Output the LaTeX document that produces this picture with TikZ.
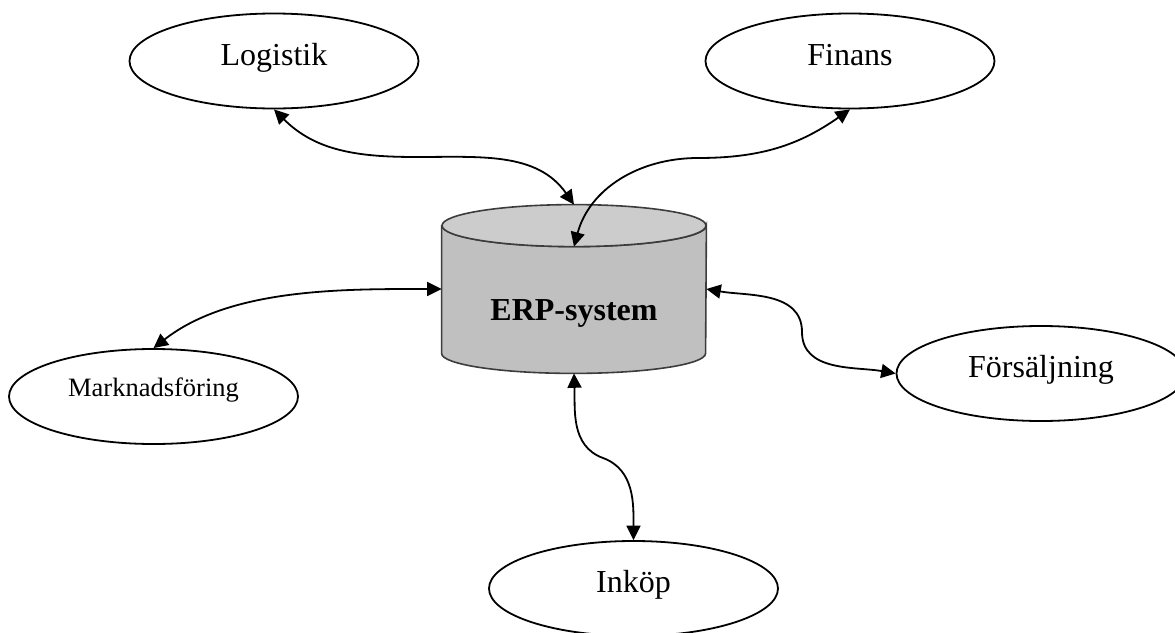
\documentclass[tikz,border=0pt]{standalone}
\usepackage{fontspec}
\setmainfont{Liberation Serif}
\usetikzlibrary{shapes.geometric,arrows.meta,calc}
\definecolor{cylbody}{RGB}{192,192,192}
\definecolor{cyltop}{RGB}{204,204,204}
\definecolor{cylline}{RGB}{60,60,60}
\tikzset{
  unit/.style={draw=black, line width=0.9pt, ellipse, inner sep=0pt,
    minimum width=144.5pt, minimum height=47.5pt,
    font=\fontsize{16}{19}\selectfont, text height=10pt, text depth=6pt},
  conn/.style={line width=0.9pt, {Triangle[length=7.2pt,width=7pt]}-{Triangle[length=7.2pt,width=7pt]}},
}
\begin{document}
\begin{tikzpicture}[x=0.5pt,y=0.5pt]
\useasboundingbox (0,0) rectangle (1175,-633);
% units
\node[unit] (L) at (274,-61) {Logistik};
\node[unit] (F) at (850,-61) {Finans};
\node[unit, font=\fontsize{13.25}{16}\selectfont, text height=6pt, text depth=6pt] (M) at (153.5,-396.5) {Marknadsföring};
\node[unit] (S) at (1041,-373.5) {Försäljning};
\node[unit] (I) at (633.5,-588.5) {Inköp};
% ERP cylinder
\node[inner sep=0pt, minimum width=132pt, minimum height=84pt,
      font=\bfseries\fontsize{16}{19}\selectfont, text height=31pt, text depth=0pt]
      (ERP) at (574,-289) {};
\filldraw[fill=cylbody, draw=cylline, line width=0.8pt]
  ($(ERP.north west)+(0,-21)$) -- ($(ERP.south west)+(0,20)$)
  arc[start angle=180, end angle=360, x radius=66pt, y radius=10pt]
  -- ($(ERP.north east)+(0,-21)$)
  arc[start angle=0, end angle=-180, x radius=66pt, y radius=10.5pt] -- cycle;
\filldraw[fill=cyltop, draw=cylline, line width=0.8pt]
  ($(ERP.north)+(0,-21)$) ellipse[x radius=66pt, y radius=10.5pt];
\node[inner sep=0pt, font=\bfseries\fontsize{16}{19}\selectfont, text height=31pt, text depth=0pt]
  (ERPtext) at (ERP.center) {ERP-system};
\coordinate (ERPtop) at ($(ERP.north)+(0,-42)$);
% bend points
\coordinate (m1) at (416,-157);
\coordinate (m2) at (698,-158);
\coordinate (m4) at (802,-332);
\coordinate (m5) at (603,-458);
% connectors
\draw[conn] (L.south) to[out=-45,in=180] (m1) to[out=0,in=125] (ERP.north);
\draw[conn] (F.south) to[out=-145,in=0] (m2) to[out=180,in=75] (ERPtop);
\draw[conn] (ERP.west) to[out=180,in=38,looseness=0.85] (M.north);
\draw[conn] (ERP.east) to[out=-10,in=90] (m4) to[out=-90,in=170] (S.west);
\draw[conn] (ERP.south) to[out=-88,in=160] (m5) to[out=-20,in=90] (I.north);
\end{tikzpicture}
\end{document}
